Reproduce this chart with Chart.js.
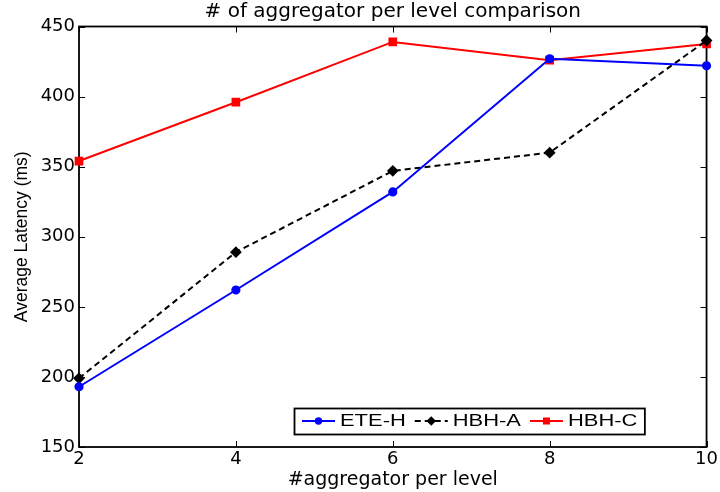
<!DOCTYPE html>
<html>
<head>
<meta charset="utf-8">
<script src="https://cdn.jsdelivr.net/npm/chart.js@4/dist/chart.umd.min.js"></script>
<style>
  html, body { margin: 0; padding: 0; background: #ffffff; }
  canvas { display: block; }
</style>
</head>
<body>
<canvas id="chart" width="720" height="492"></canvas>
<script>
// Number of aggregators per level (x) and average latency in ms (y)
const aggregatorsPerLevel = [2, 4, 6, 8, 10];
const eteH = [193, 262, 332, 427, 422];
const hbhA = [199, 289, 347, 360, 440];
const hbhC = [354, 396, 439, 426, 437.5];

const xTicks = [2, 4, 6, 8, 10];
const yTicks = [150, 200, 250, 300, 350, 400, 450];

const chartTitle = '# of aggregator per level comparison';

const toPoints = ys => ys.map((y, i) => ({ x: aggregatorsPerLevel[i], y }));

// Title centred over the plot area
const plotTitle = {
  id: 'plotTitle',
  afterDraw(chart) {
    const { ctx, chartArea: a } = chart;
    ctx.save();
    ctx.fillStyle = '#000';
    ctx.font = '20px "DejaVu Sans", sans-serif';
    ctx.textAlign = 'center';
    ctx.textBaseline = 'alphabetic';
    ctx.fillText(chartTitle, (a.left + a.right) / 2, 16.5);
    ctx.restore();
  }
};

// Box around the plot area with short inward tick marks on all four sides
const frameAndTicks = {
  id: 'frameAndTicks',
  beforeDatasetsDraw(chart) {
    const { ctx, chartArea: a, scales: { x, y } } = chart;
    const len = 6;
    ctx.save();
    ctx.strokeStyle = '#000';
    ctx.lineWidth = 1.8;
    ctx.strokeRect(a.left, a.top, a.right - a.left, a.bottom - a.top);
    ctx.lineWidth = 1;
    ctx.beginPath();
    xTicks.forEach(v => {
      const px = Math.round(x.getPixelForValue(v)) + 0.5;
      ctx.moveTo(px, a.bottom); ctx.lineTo(px, a.bottom - len);
      ctx.moveTo(px, a.top); ctx.lineTo(px, a.top + len);
    });
    yTicks.forEach(v => {
      const py = Math.round(y.getPixelForValue(v)) + 0.5;
      ctx.moveTo(a.left, py); ctx.lineTo(a.left + len, py);
      ctx.moveTo(a.right, py); ctx.lineTo(a.right - len, py);
    });
    ctx.stroke();
    ctx.restore();
  }
};

// Legend box drawn inside the plot area, near the bottom
const insideLegend = {
  id: 'insideLegend',
  afterDatasetsDraw(chart) {
    const { ctx } = chart;
    const boxLeft = 294, boxTop = 408, boxH = 26;
    const lineLen = 33, textGap = 5, itemGap = 9, stretch = 1.37;
    const midY = boxTop + boxH / 2;
    ctx.save();
    ctx.font = '16px "Liberation Sans", Arial, sans-serif';
    const items = chart.data.datasets.map(ds => ({
      ds, w: ctx.measureText(ds.label).width * stretch
    }));
    let total = 8;
    items.forEach((it, i) => { total += lineLen + textGap + it.w + (i < items.length - 1 ? itemGap : 7); });

    ctx.fillStyle = '#fff';
    ctx.fillRect(boxLeft, boxTop, total, boxH);
    ctx.strokeStyle = '#000';
    ctx.lineWidth = 1.8;
    ctx.strokeRect(boxLeft + 0.5, boxTop + 0.5, total, boxH);

    let cx = boxLeft + 8;
    items.forEach(it => {
      const ds = it.ds;
      ctx.strokeStyle = ds.borderColor;
      ctx.lineWidth = ds.borderWidth;
      ctx.setLineDash(ds.borderDash || []);
      ctx.beginPath();
      ctx.moveTo(cx, midY); ctx.lineTo(cx + lineLen, midY);
      ctx.stroke();
      ctx.setLineDash([]);
      Chart.helpers.drawPoint(ctx, {
        pointStyle: ds.pointStyle, radius: ds.pointRadius * 0.75, borderWidth: 1, rotation: 0
      }, cx + lineLen / 2, midY);
      ctx.fillStyle = ds.pointBackgroundColor;
      ctx.fill();
      ctx.fillStyle = '#000';
      ctx.textBaseline = 'middle';
      ctx.textAlign = 'left';
      ctx.save();
      ctx.translate(cx + lineLen + textGap, midY + 1);
      ctx.scale(stretch, 1);
      ctx.fillText(ds.label, 0, 0);
      ctx.restore();
      cx += lineLen + textGap + it.w + itemGap;
    });
    ctx.restore();
  }
};

const tickFont = { family: '"DejaVu Sans", sans-serif', size: 18 };

new Chart(document.getElementById('chart'), {
  type: 'line',
  data: {
    datasets: [
      {
        label: 'ETE-H',
        data: toPoints(eteH),
        borderColor: '#0000ff',
        backgroundColor: '#0000ff',
        pointBackgroundColor: '#0000ff',
        pointBorderColor: '#0000ff',
        borderWidth: 2,
        pointStyle: 'circle',
        pointRadius: 3.6,
        clip: false
      },
      {
        label: 'HBH-A',
        data: toPoints(hbhA),
        borderColor: '#000000',
        backgroundColor: '#000000',
        pointBackgroundColor: '#000000',
        pointBorderColor: '#000000',
        borderWidth: 2,
        borderDash: [6, 4],
        pointStyle: 'rectRot',
        pointRadius: 4.5,
        clip: false
      },
      {
        label: 'HBH-C',
        data: toPoints(hbhC),
        borderColor: '#ff0000',
        backgroundColor: '#ff0000',
        pointBackgroundColor: '#ff0000',
        pointBorderColor: '#ff0000',
        borderWidth: 2,
        pointStyle: 'rect',
        pointRadius: 4.7,
        clip: false
      }
    ]
  },
  options: {
    responsive: false,
    animation: false,
    devicePixelRatio: 1,
    layout: { padding: { left: 0, right: 12.5, top: 26.5, bottom: 0 } },
    elements: { line: { tension: 0 } },
    plugins: {
      legend: { display: false },
      tooltip: { enabled: false },
      title: { display: false }
    },
    scales: {
      x: {
        type: 'linear',
        min: 2,
        max: 10,
        afterBuildTicks: s => { s.ticks = xTicks.map(v => ({ value: v })); },
        afterFit: s => { s.height = 45; },
        grid: { display: false, drawTicks: false },
        border: { display: false },
        ticks: { color: '#000', font: tickFont, padding: 2, autoSkip: false, maxRotation: 0 },
        title: {
          display: true,
          text: '#aggregator per level',
          color: '#000',
          font: { family: '"DejaVu Sans", sans-serif', size: 19 },
          padding: { top: 0, bottom: 1 }
        }
      },
      y: {
        type: 'linear',
        min: 150,
        max: 450,
        afterBuildTicks: s => { s.ticks = yTicks.map(v => ({ value: v })); },
        afterFit: s => { s.width = 79; },
        grid: { display: false, drawTicks: false },
        border: { display: false },
        ticks: { color: '#000', font: tickFont, padding: 4, autoSkip: false },
        title: {
          display: true,
          text: 'Average Latency (ms)',
          color: '#000',
          font: { family: '"Liberation Sans", Arial, sans-serif', size: 17.5 },
          padding: { top: 12, bottom: 0 }
        }
      }
    }
  },
  plugins: [frameAndTicks, insideLegend, plotTitle]
});
</script>
</body>
</html>
